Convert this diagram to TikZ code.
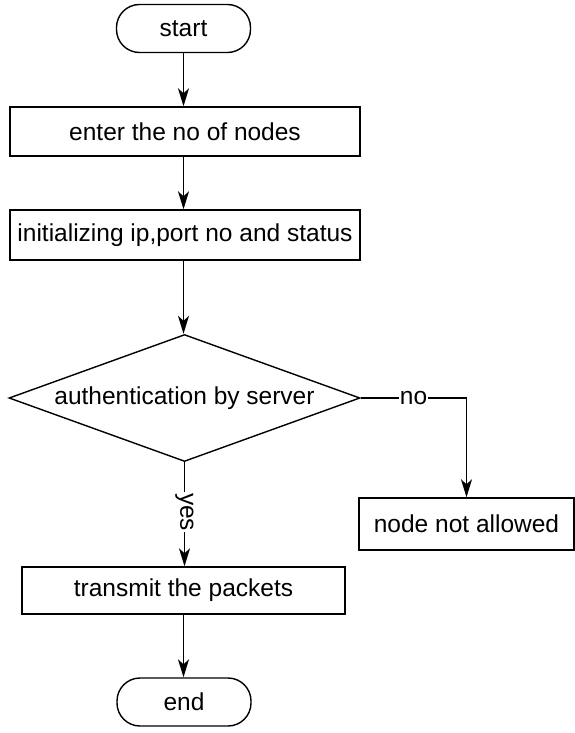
\documentclass[tikz,border=0pt]{standalone}
\usepackage{fontspec}
\setmainfont{Liberation Sans}
\usetikzlibrary{shapes.geometric,arrows.meta}
\begin{document}
\begin{tikzpicture}[x=1pt,y=-1pt,
  font=\fontsize{24.5}{28}\selectfont,
  line width=1.4pt,
  box/.style={draw, rectangle, inner sep=0pt},
  term/.style={draw, rectangle, rounded corners=23pt, inner sep=0pt,
    minimum width=134pt, minimum height=48pt},
  decision/.style={draw, diamond, inner sep=0pt, aspect=2.78,
    minimum width=351pt, minimum height=127pt},
  flow/.style={-{Stealth[length=18pt,width=11pt,inset=5pt]}},
  lbl/.style={fill=white, inner sep=1pt}]
  \useasboundingbox (0,0) rectangle (575,733);

  % process steps
  \node[term] (start) at (183.5,28.5) {start};
  \node[box, minimum width=350pt, minimum height=49pt] (nodes) at (185,131.5) {enter the no of nodes};
  \node[box, minimum width=350pt, minimum height=50pt] (init) at (185,235) {initializing ip,port no and status};
  \node[decision] (auth) at (184.5,398) {authentication by server};
  \node[box, minimum width=215pt, minimum height=52pt] (deny) at (466.5,524) {node not allowed};
  \node[box, minimum width=323pt, minimum height=47pt] (send) at (183.5,590.5) {transmit the packets};
  \node[term] (stop) at (184,702) {end};

  % connectors
  \draw[flow] (start.south) -- (start.south |- nodes.north);
  \draw[flow] (start.south |- nodes.south) -- (start.south |- init.north);
  \draw[flow] (start.south |- init.south) -- (start.south |- auth.north);
  \draw[flow] (auth.south) -- (auth.south |- send.north)
    node[lbl, pos=0.48, rotate=-90] {yes};
  \draw[flow] (auth.east) -- (deny.north |- auth.east)
    node[lbl, pos=0.5] {no} -- (deny.north);
  \draw[flow] (start.south |- send.south) -- (start.south |- stop.north);
\end{tikzpicture}
\end{document}
